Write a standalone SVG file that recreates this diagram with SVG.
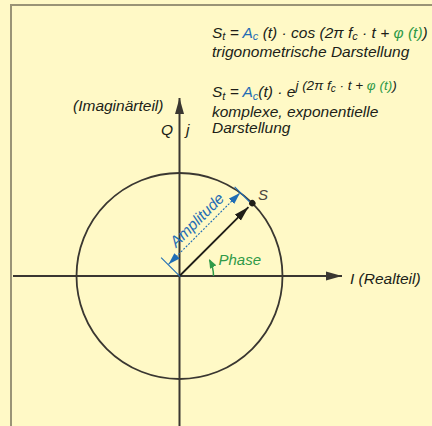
<svg xmlns="http://www.w3.org/2000/svg" width="432" height="426" viewBox="0 0 432 426">
<style>
text{font-family:"Liberation Sans",Arial,sans-serif;font-style:italic;font-size:15.5px;fill:#201e18}
.blue{fill:#1f6db5}
.green{fill:#2f9a48}
.sub{font-size:11px}
.sup{font-size:13.5px}
.supsub{font-size:10px}
.axis{stroke:#3a3731;stroke-width:2;fill:none}
.circle{stroke:#3a3731;stroke-width:1.8;fill:none}
.dim{stroke:#1f6db5;stroke-width:1.1;fill:none}
.dotted{stroke-dasharray:2 1.5}
.phase{stroke:#2f9a48;stroke-width:1.5;fill:none}
</style>
<defs>
<marker id="axisArrow" markerUnits="userSpaceOnUse" viewBox="-16 -5 16 10" markerWidth="16" markerHeight="10" refX="0" refY="0" orient="auto">
<path d="M0,0 L-16,-4.5 L-16,4.5 Z" fill="#3a3731"/>
</marker>
<marker id="vecArrow" markerUnits="userSpaceOnUse" viewBox="-15 -5 15 10" markerWidth="15" markerHeight="10" refX="0" refY="0" orient="auto">
<path d="M0,0 L-15,-4.2 L-15,4.2 Z" fill="#201e18"/>
</marker>
<marker id="blueArrow" markerUnits="userSpaceOnUse" viewBox="-12 -4 12 8" markerWidth="12" markerHeight="8" refX="0" refY="0" orient="auto-start-reverse">
<path d="M0,0 L-12,-3.8 L-12,3.8 Z" fill="#1f6db5"/>
</marker>
<marker id="greenArrow" markerUnits="userSpaceOnUse" viewBox="-9 -4 9 8" markerWidth="9" markerHeight="8" refX="-1" refY="0" orient="auto">
<path d="M0,0 L-9,-3.6 L-9,3.6 Z" fill="#2f9a48"/>
</marker>
</defs>
<rect width="432" height="426" fill="#fff9c6"/>
<path d="M11,426 V5 H432" stroke="#9a9476" stroke-width="2" fill="none"/>

<g id="formulas">
<text x="212" y="37.5">S<tspan class="sub" dy="2.5">t</tspan><tspan dy="-2.5"> = </tspan><tspan class="blue">A</tspan><tspan class="blue sub" dy="2.5">c</tspan><tspan dy="-2.5"> (t) · cos (2π f</tspan><tspan class="sub" dy="2.5">c</tspan><tspan dy="-2.5"> · t + </tspan><tspan class="green">φ (t)</tspan>)</text>
<text x="212" y="57">trigonometrische Darstellung</text>
<text x="212" y="97">S<tspan class="sub" dy="2.5">t</tspan><tspan dy="-2.5"> = </tspan><tspan class="blue">A</tspan><tspan class="blue sub" dy="2.5">c</tspan><tspan dy="-2.5">(t) · e</tspan><tspan class="sup" dy="-7">j (2π f</tspan><tspan class="supsub" dy="2">c</tspan><tspan class="sup" dy="-2"> · t + </tspan><tspan class="sup green">φ (t)</tspan><tspan class="sup">)</tspan></text>
<text x="212" y="116.5">komplexe, exponentielle</text>
<text x="212" y="132.5">Darstellung</text>
</g>

<g id="connectors">
<line class="axis" x1="13" y1="276" x2="342" y2="276" marker-end="url(#axisArrow)"/>
<line class="axis" x1="179.5" y1="426" x2="179.5" y2="98" marker-end="url(#axisArrow)"/>
</g>

<g id="axis-labels">
<text x="73" y="110.5">(Imaginärteil)</text>
<text x="161" y="135">Q</text>
<text x="186" y="135">j</text>
<text x="350" y="284">I (Realteil)</text>
</g>

<g id="circle">
<circle class="circle" cx="179.5" cy="276" r="103"/>
</g>

<g id="vector" transform="translate(179.5,276) rotate(-45)">
<line x1="0" y1="0" x2="97.5" y2="0" stroke="#201e18" stroke-width="1.8" marker-end="url(#vecArrow)"/>
<circle cx="103" cy="0" r="3.2" fill="#201e18"/>
</g>
<text x="258" y="200" style="fill:#4a4740;font-size:15px">S</text>

<g id="amplitude" transform="translate(179.5,276) rotate(-45)">
<line class="dim" x1="0" y1="1" x2="0" y2="-26"/>
<line class="dim" x1="102" y1="-3" x2="102" y2="-24"/>
<line class="dim dotted" x1="0.5" y1="-16" x2="101.5" y2="-16" marker-start="url(#blueArrow)" marker-end="url(#blueArrow)"/>
<text class="blue" x="52" y="-22" text-anchor="middle">Amplitude</text>
</g>

<g id="phase">
<path class="phase" d="M213.5,276 A34,34 0 0 0 209.5,260" marker-end="url(#greenArrow)"/>
<text class="green" x="218.5" y="265" style="font-size:15px">Phase</text>
</g>
</svg>
